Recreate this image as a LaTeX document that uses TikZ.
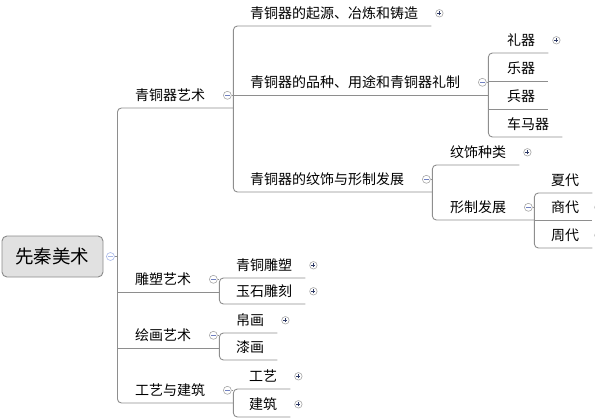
\documentclass[tikz,border=0pt]{standalone}
\usepackage{fontspec}
\newfontfamily\cjk{Noto Sans CJK SC}
\usepackage{xcolor}
\usepackage{tikz}
\usetikzlibrary{calc}

\definecolor{linegray}{HTML}{8E8E8E}
\definecolor{boxgray}{HTML}{8A8A8A}
\definecolor{rootfill}{HTML}{E1E1E1}
\definecolor{circgray}{HTML}{A6A6A6}
\definecolor{navy}{HTML}{2E3A66}
\definecolor{minusblue}{HTML}{7080C0}
\definecolor{rootcirc}{HTML}{A8B8E8}

\begin{document}
\begin{tikzpicture}[
      x=1pt, y=-1pt,
      font=\cjk\fontsize{14pt}{16pt}\selectfont,
      link/.style={draw=linegray, line width=0.9pt},
      bracket/.style={link, rounded corners=4pt},
      topic/.style={anchor=south west, inner sep=0pt, minimum height=25pt},
      rootbox/.style={draw=boxgray, fill=rootfill, rounded corners=5pt, line width=0.9pt,
                      minimum width=101pt, minimum height=41pt, inner sep=0pt,
                      font=\cjk\fontsize{18.5pt}{22pt}\selectfont},
      plusmark/.style={circle, draw=circgray, fill=white, minimum size=7.5pt, inner sep=0pt, line width=0.6pt,
                       path picture={\draw[navy, line width=0.8pt]
                         (path picture bounding box.center) +(-2pt,0) -- +(2pt,0)
                         (path picture bounding box.center) +(0,-2pt) -- +(0,2pt);}},
      minusmark/.style={circle, draw=circgray, fill=white, minimum size=8pt, inner sep=0pt, line width=0.6pt,
                        path picture={\draw[minusblue, line width=0.8pt]
                          (path picture bounding box.center) +(-2.2pt,0) -- +(2.2pt,0);}},
      rootmark/.style={minusmark, draw=rootcirc,
                       path picture={\draw[rootcirc, line width=0.8pt]
                         (path picture bounding box.center) +(-2.2pt,0) -- +(2.2pt,0);}}
    ]
    \clip (0,0) rectangle (595,420);

    \node[rootbox] (root) at (52.5,256.5) {先秦美术};
    \node[rootmark] (root-m) at ([xshift=7pt]root.east) {};
    \coordinate (root-e) at ([xshift=14pt]root.east);

    \node[topic] (bronze) at (135,108) {青铜器艺术};
    \node[topic] (sculpt) at (135,292) {雕塑艺术};
    \node[topic] (paint)  at (135,348) {绘画艺术};
    \node[topic] (craft)  at (135,403) {工艺与建筑};

    \node[topic] (origin) at (250,26)  {青铜器的起源、冶炼和铸造};
    \node[topic] (kinds)  at (250,95)  {青铜器的品种、用途和青铜器礼制};
    \node[topic] (decor)  at (250,192) {青铜器的纹饰与形制发展};

    \node[topic] (liqi)   at (507,53)  {礼器};
    \node[topic] (yueqi)  at (507,81)  {乐器};
    \node[topic] (bingqi) at (507,109) {兵器};
    \node[topic] (chema)  at (507,137) {车马器};

    \node[topic] (wenshi)  at (450,165) {纹饰种类};
    \node[topic] (xingzhi) at (450,220) {形制发展};
    \node[topic] (xia)     at (551,193) {夏代};
    \node[topic] (shang)   at (551,220) {商代};
    \node[topic] (zhou)    at (551,248) {周代};

    \node[topic] (bronzesc) at (236,278) {青铜雕塑};
    \node[topic] (jade)     at (236,304) {玉石雕刻};
    \node[topic] (silk)     at (236,333) {帛画};
    \node[topic] (lacquer)  at (236,360) {漆画};
    \node[topic] (gongyi)   at (249,389) {工艺};
    \node[topic] (jianzhu)  at (249,417) {建筑};

    % ends of the underlines
    \foreach \n in {bronze,kinds,decor,xingzhi,sculpt,paint,craft}
      \coordinate (\n-e) at ([xshift=28pt]\n.south east);
    \foreach \n in {origin,liqi,yueqi,bingqi,chema,wenshi,xia,shang,zhou,bronzesc,jade,silk,lacquer,gongyi,jianzhu}
      \coordinate (\n-e) at ([xshift=13pt]\n.south east);

    \foreach \n in {bronze,kinds,decor,xingzhi,sculpt,paint,craft}
      \node[minusmark] (\n-m) at ([xshift=22pt]\n.east) {};
    \foreach \n in {origin,liqi,wenshi,bronzesc,jade,silk,gongyi,jianzhu}
      \node[plusmark] (\n-p) at ([xshift=21pt]\n.east) {};
    \foreach \n in {shang,zhou}
      \node[plusmark] (\n-p) at ([xshift=19pt]\n.east) {};

    \draw[link] (root-m) -- (root-e);
    \draw[bracket] (bronze-e) -- (bronze.south -| root-e) -- (craft.south -| root-e) -- (craft-e);
    \draw[link] (sculpt.south -| root-e) -- (sculpt-e);
    \draw[link] (paint.south -| root-e) -- (paint-e);

    \draw[link] (bronze-m) -- (bronze-m -| bronze-e);
    \draw[bracket] (origin-e) -- (origin.south -| bronze-e) -- (decor.south -| bronze-e) -- (decor-e);
    \draw[link] (kinds.south -| bronze-e) -- (kinds-e);

    \draw[link] (kinds-m) -- (kinds-m -| kinds-e);
    \draw[bracket] (liqi-e) -- (liqi.south -| kinds-e) -- (chema.south -| kinds-e) -- (chema-e);
    \draw[link] (yueqi.south -| kinds-e) -- (yueqi-e);
    \draw[link] (bingqi.south -| kinds-e) -- (bingqi-e);

    \draw[link] (decor-m) -- (decor-m -| decor-e);
    \draw[bracket] (wenshi-e) -- (wenshi.south -| decor-e) -- (xingzhi.south -| decor-e) -- (xingzhi-e);

    \draw[link] (xingzhi-m) -- (xingzhi-m -| xingzhi-e);
    \draw[bracket] (xia-e) -- (xia.south -| xingzhi-e) -- (zhou.south -| xingzhi-e) -- (zhou-e);
    \draw[link] (shang.south -| xingzhi-e) -- (shang-e);

    \draw[link] (sculpt-m) -- (sculpt-m -| sculpt-e);
    \draw[bracket] (bronzesc-e) -- (bronzesc.south -| sculpt-e) -- (jade.south -| sculpt-e) -- (jade-e);

    \draw[link] (paint-m) -- (paint-m -| paint-e);
    \draw[bracket] (silk-e) -- (silk.south -| paint-e) -- (lacquer.south -| paint-e) -- (lacquer-e);

    \draw[link] (craft-m) -- (craft-m -| craft-e);
    \draw[bracket] (gongyi-e) -- (gongyi.south -| craft-e) -- (jianzhu.south -| craft-e) -- (jianzhu-e);
  \end{tikzpicture}
\end{document}
